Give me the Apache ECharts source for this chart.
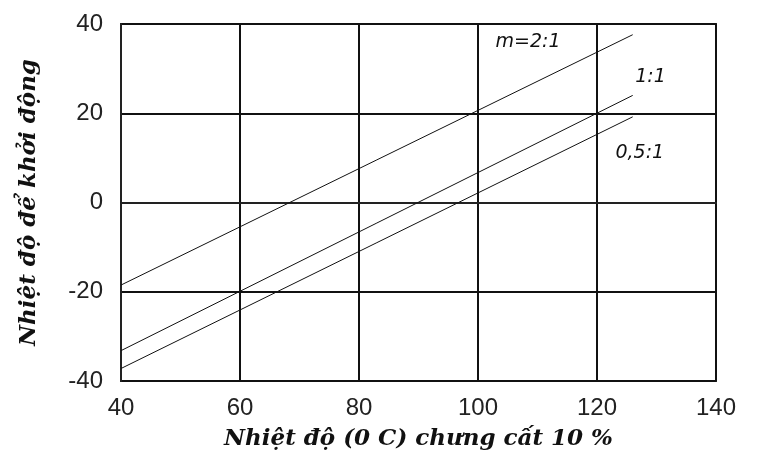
<!DOCTYPE html>
<html>
<head>
<meta charset="utf-8">
<script src="https://cdn.jsdelivr.net/npm/echarts@6/dist/echarts.min.js"></script>
<style>html,body{margin:0;padding:0;background:#fff}#c{width:761px;height:467px}</style>
</head>
<body>
<div id="c"></div>
<script>
// data
const xTicks = [40, 60, 80, 100, 120, 140];
const yTicks = [-40, -20, 0, 20, 40];
const lineX = [40, 126];
const ratio2to1 = [-18.5, 37.6];
const ratio1to1 = [-33.2, 24.0];
const ratio05to1 = [-37.2, 19.2];
const labelNames = ['m=2:1', '1:1', '0,5:1'];
const labelCoords = [[108.4, 36], [129, 28], [127.2, 11]];

const chart = echarts.init(document.getElementById('c'));
const mkLine = (name, ys, li) => ({
  type: 'line', name: name, symbol: 'none', silent: true,
  lineStyle: { color: '#111', width: 1 },
  data: lineX.map((x, i) => [x, ys[i]]),
  markPoint: {
    symbol: 'rect', symbolSize: 1, itemStyle: { color: 'transparent' },
    label: { show: true, position: 'inside', formatter: labelNames[li], color: '#111',
      fontFamily: 'DejaVu Sans', fontStyle: 'italic', fontSize: 19 },
    data: [{ coord: labelCoords[li] }]
  }
});
chart.setOption({
  animation: false,
  backgroundColor: '#fff',
  grid: { left: 121, top: 24, right: 45, bottom: 86, show: true, borderColor: '#222', borderWidth: 2 },
  xAxis: {
    type: 'value', min: xTicks[0], max: xTicks[xTicks.length - 1], interval: 20,
    name: 'Nhiệt độ (0 C) chưng cất 10 %', nameLocation: 'middle', nameGap: 47,
    nameTextStyle: { fontFamily: 'DejaVu Serif', fontWeight: 'bold', fontStyle: 'italic', fontSize: 23, color: '#111' },
    axisLine: { lineStyle: { color: '#222', width: 2 } },
    axisTick: { show: false },
    axisLabel: { color: '#222', fontSize: 24, fontFamily: 'Liberation Sans', margin: 15 },
    splitLine: { lineStyle: { color: '#111', width: 2 } }
  },
  yAxis: {
    type: 'value', min: yTicks[0], max: yTicks[yTicks.length - 1], interval: 20,
    name: 'Nhiệt độ để khởi động', nameLocation: 'middle', nameGap: 80,
    nameTextStyle: { fontFamily: 'DejaVu Serif', fontWeight: 'bold', fontStyle: 'italic', fontSize: 23, color: '#111' },
    axisLine: { lineStyle: { color: '#222', width: 2 } },
    axisTick: { show: false },
    axisLabel: { color: '#222', fontSize: 24, fontFamily: 'Liberation Sans', margin: 18 },
    splitLine: { lineStyle: { color: '#111', width: 2 } }
  },
  series: [
    mkLine('m=2:1', ratio2to1, 0),
    mkLine('1:1', ratio1to1, 1),
    mkLine('0,5:1', ratio05to1, 2)
  ]
});
</script>
</body>
</html>
